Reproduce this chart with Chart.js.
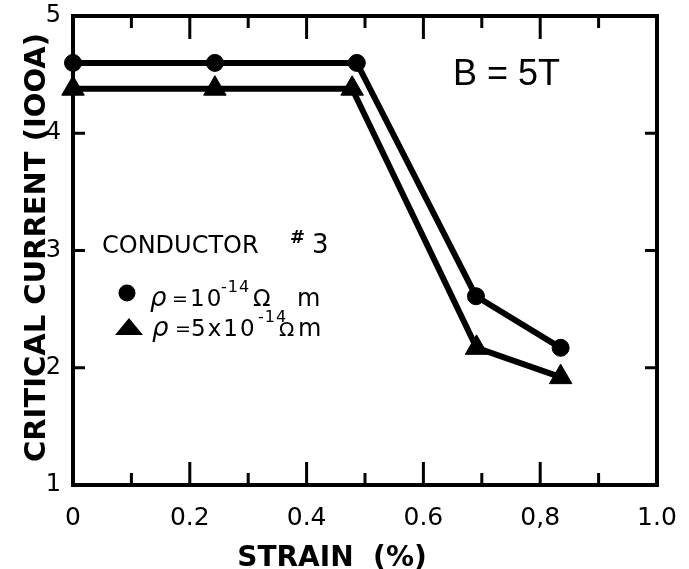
<!DOCTYPE html>
<html>
<head>
<meta charset="utf-8">
<script src="https://cdn.jsdelivr.net/npm/chart.js@4.4.1/dist/chart.umd.min.js"></script>
<style>
  html, body { margin: 0; padding: 0; background: #fff; }
  #wrap { width: 689px; height: 569px; position: relative; }
</style>
</head>
<body>
<div id="wrap"><canvas id="strainChart"></canvas></div>
<script>
// values
const strainA = [0, 0.243, 0.486, 0.69, 0.835];
const currentA = [4.6, 4.6, 4.6, 2.61, 2.17];
const strainB = [0, 0.243, 0.478, 0.691, 0.835];
const currentB = [4.38, 4.38, 4.38, 2.17, 1.92];
const xTickLabels = ['0', '0.2', '0.4', '0.6', '0,8', '1.0'];
const yTickLabels = ['1', '2', '3', '4', '5'];
const seriesNames = ['ρ = 10⁻¹⁴ Ωm', 'ρ = 5x10⁻¹⁴ Ωm'];

const toPoints = (xs, ys) => xs.map((x, i) => ({ x: x, y: ys[i] }));
const FONT = '"DejaVu Sans", sans-serif';

// box with inward ticks, like the old plot
const frame = {
  id: 'frame',
  beforeDatasetsDraw(chart) {
    const { ctx, chartArea: a, scales: { x, y } } = chart;
    ctx.save();
    ctx.strokeStyle = '#000';
    ctx.lineWidth = 4;
    ctx.strokeRect(a.left, a.top, a.right - a.left, a.bottom - a.top);
    ctx.lineWidth = 3;
    ctx.beginPath();
    for (let i = 1; i < 10; i++) {
      const px = x.getPixelForValue(i / 10);
      const len = i % 2 === 0 ? 23 : 12;
      ctx.moveTo(px, a.bottom); ctx.lineTo(px, a.bottom - len);
      ctx.moveTo(px, a.top); ctx.lineTo(px, a.top + len);
    }
    for (let v = 2; v <= 4; v++) {
      const py = y.getPixelForValue(v);
      ctx.moveTo(a.left, py); ctx.lineTo(a.left + 12, py);
      ctx.moveTo(a.right, py); ctx.lineTo(a.right - 12, py);
    }
    ctx.stroke();
    ctx.restore();
  }
};

function put(ctx, s, x, y, font, spacing) {
  ctx.font = font;
  ctx.letterSpacing = spacing || '0px';
  ctx.fillText(s, x, y);
}

// titles, note and hand-made legend
const labels = {
  id: 'labels',
  afterDraw(chart) {
    const ctx = chart.ctx;
    ctx.save();
    ctx.fillStyle = '#000';
    ctx.textBaseline = 'alphabetic';

    ctx.textAlign = 'center';
    put(ctx, 'STRAIN  (%)', 332, 566, 'bold 28px ' + FONT);
    ctx.save();
    ctx.translate(45, 247.5);
    ctx.rotate(-Math.PI / 2);
    put(ctx, 'CRITICAL CURRENT (IOOA)', 0, 0, 'bold 29px ' + FONT);
    ctx.restore();

    ctx.textAlign = 'left';
    put(ctx, 'B = 5T', 453, 85, '36px "Liberation Sans", Arial, sans-serif');
    put(ctx, 'CONDUCTOR', 102, 253, '24px ' + FONT);
    put(ctx, '#', 290, 243, 'bold 18px ' + FONT);
    put(ctx, '3', 312, 253, '26px ' + FONT);

    // series 1
    ctx.beginPath();
    ctx.arc(127, 293, 8.5, 0, Math.PI * 2);
    ctx.fill();
    put(ctx, 'ρ', 150, 306, 'italic 26px ' + FONT);
    put(ctx, '=', 172, 305, '19px ' + FONT);
    put(ctx, '10', 190, 306, '23px ' + FONT, '2px');
    put(ctx, '-14', 221, 292, '16px ' + FONT, '1px');
    put(ctx, 'Ω', 253, 306, '23px ' + FONT);
    put(ctx, 'm', 297, 306, '24px ' + FONT);

    // series 2
    ctx.beginPath();
    ctx.moveTo(129, 318); ctx.lineTo(143, 335); ctx.lineTo(115, 335);
    ctx.closePath();
    ctx.fill();
    put(ctx, 'ρ', 152, 336, 'italic 26px ' + FONT);
    put(ctx, '=', 175, 335, '19px ' + FONT);
    put(ctx, '5x10', 191, 336, '23px ' + FONT, '2px');
    put(ctx, '-14', 258, 322, '16px ' + FONT, '1px');
    put(ctx, 'Ω', 279, 336, '20px ' + FONT);
    put(ctx, 'm', 298, 336, '24px ' + FONT);
    ctx.restore();
  }
};

new Chart(document.getElementById('strainChart'), {
  type: 'scatter',
  data: {
    datasets: [{
      label: seriesNames[0],
      data: toPoints(strainA, currentA),
      showLine: true,
      borderColor: '#000',
      backgroundColor: '#000',
      borderWidth: 6,
      pointStyle: 'circle',
      pointRadius: 8.5,
      pointBorderWidth: 1,
      clip: false
    }, {
      label: seriesNames[1],
      data: toPoints(strainB, currentB),
      showLine: true,
      borderColor: '#000',
      backgroundColor: '#000',
      borderWidth: 6,
      pointStyle: 'triangle',
      pointRadius: 13,
      pointBorderWidth: 1,
      clip: false
    }]
  },
  options: {
    responsive: true,
    maintainAspectRatio: false,
    animation: false,
    layout: { padding: { top: 16, right: 32, left: 0, bottom: 0 } },
    plugins: { legend: { display: false }, tooltip: { enabled: false } },
    scales: {
      x: {
        type: 'linear', min: 0, max: 1,
        afterFit: s => { s.height = 84; s.paddingLeft = 0; s.paddingRight = 0; },
        grid: { display: false, drawTicks: false },
        border: { display: false },
        ticks: {
          stepSize: 0.2, padding: 18, color: '#000', maxRotation: 0,
          font: { family: 'DejaVu Sans', size: 25 },
          callback: v => xTickLabels[Math.round(v * 5)]
        }
      },
      y: {
        type: 'linear', min: 1, max: 5,
        afterFit: s => { s.width = 73; s.paddingTop = 0; s.paddingBottom = 0; },
        grid: { display: false, drawTicks: false },
        border: { display: false },
        ticks: {
          stepSize: 1, padding: 12, color: '#000',
          font: { family: 'DejaVu Sans', size: 24 },
          callback: v => yTickLabels[Math.round(v) - 1]
        }
      }
    }
  },
  plugins: [frame, labels]
});
</script>
</body>
</html>
